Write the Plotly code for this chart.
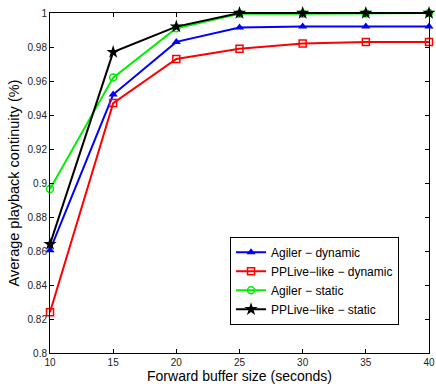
import plotly.graph_objects as go

buffer_sizes = [10, 15, 20, 25, 30, 35, 40]
agiler_dynamic = [0.8605, 0.952, 0.983, 0.9915, 0.992, 0.992, 0.992]
pplive_dynamic = [0.824, 0.947, 0.973, 0.979, 0.982, 0.983, 0.983]
agiler_static = [0.8965, 0.962, 0.991, 0.9995, 0.9995, 0.9997, 1.0]
pplive_static = [0.864, 0.977, 0.992, 1.0, 1.0, 1.0, 1.0]

series = [
    ("Agiler \u2212 dynamic", agiler_dynamic, "#0000ff", dict(symbol="triangle-up", size=8, color="#0000ff")),
    ("PPLive\u2212like \u2212 dynamic", pplive_dynamic, "#ff0000", dict(symbol="square-open", size=7, color="#ff0000", line=dict(width=1.5, color="#ff0000"))),
    ("Agiler \u2212 static", agiler_static, "#00ee00", dict(symbol="circle-open", size=7, color="#00ee00", line=dict(width=1.5, color="#00ee00"))),
    ("PPLive\u2212like \u2212 static", pplive_static, "#000000", dict(symbol="star", size=10, color="#000000")),
]

fig = go.Figure()
for name, vals, col, mk in series:
    fig.add_trace(go.Scatter(x=buffer_sizes, y=vals, name=name, mode="lines+markers",
                             line=dict(color=col, width=2), marker=mk, cliponaxis=False))

axis_common = dict(showgrid=False, zeroline=False, showline=True, linecolor="#000000", linewidth=1,
                   mirror="ticks", ticks="inside", ticklen=4, tickcolor="#000000",
                   ticklabeloverflow="allow",
                   tickfont=dict(family="Arial, Liberation Sans, sans-serif", size=10, color="#222222"))

fig.update_layout(
    width=436, height=388,
    margin=dict(l=50, r=1, t=13, b=35),
    paper_bgcolor="white", plot_bgcolor="white",
    font=dict(family="Arial, Liberation Sans, sans-serif", color="#000000"),
    xaxis=dict(range=[10, 40], tickvals=[10, 15, 20, 25, 30, 35, 40],
               title=dict(text="Forward buffer size (seconds)", font=dict(size=14), standoff=3), **axis_common),
    yaxis=dict(range=[0.8, 1.0], tickvals=[0.8, 0.82, 0.84, 0.86, 0.88, 0.9, 0.92, 0.94, 0.96, 0.98, 1.0],
               ticktext=["0.8", "0.82", "0.84", "0.86", "0.88", "0.9", "0.92", "0.94", "0.96", "0.98", "1"],
               title=dict(text="Average playback continuity (%)", font=dict(size=14.5), standoff=4), **axis_common),
    legend=dict(x=0.475, y=0.342, xanchor="left", yanchor="top", bordercolor="#000000", borderwidth=1,
                bgcolor="white", font=dict(size=12), itemwidth=30, tracegroupgap=0),
    showlegend=True,
)

fig.write_html("out.html")
